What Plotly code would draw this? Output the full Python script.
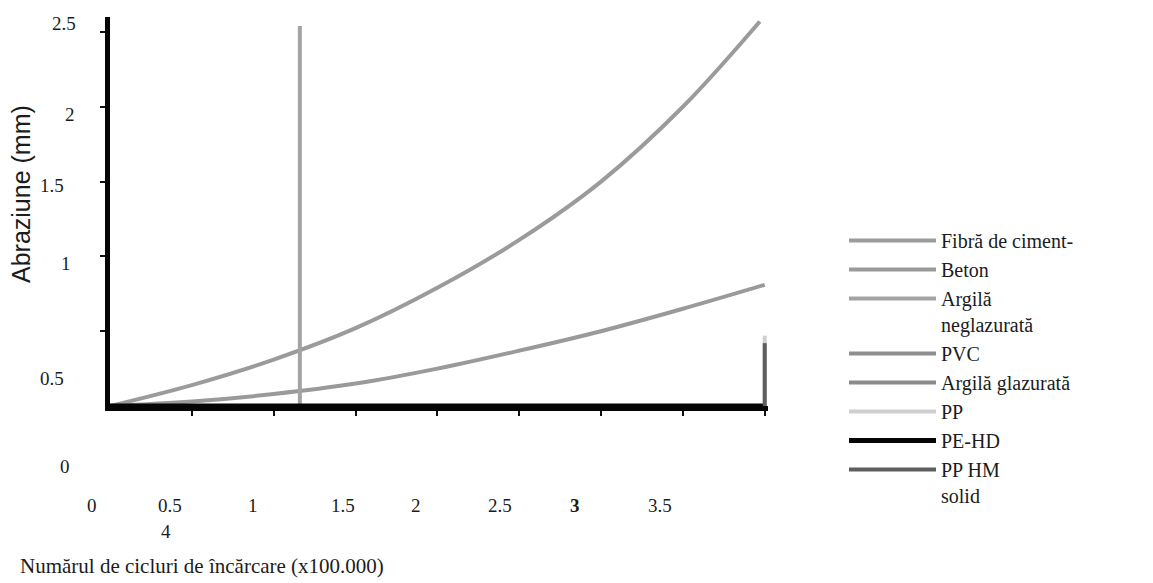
import plotly.graph_objects as go

# ---------------- data ----------------
x_fibra = [0, 0.5, 1, 1.5, 2, 2.5, 3, 3.5, 3.97]
y_fibra = [0, 0.14, 0.31, 0.52, 0.79, 1.11, 1.50, 2.00, 2.57]

x_beton = [0, 0.5, 1, 1.5, 2, 2.5, 3, 3.5, 4]
y_beton = [0, 0.03, 0.08, 0.15, 0.25, 0.37, 0.50, 0.65, 0.81]

x_argila_neglaz = [1.16, 1.16]
y_argila_neglaz = [0, 2.54]

x_pvc = [0, 4]
y_pvc = [0, 0]

x_argila_glaz = [0, 4]
y_argila_glaz = [0, 0]

x_pp = [4, 4]
y_pp = [0, 0.47]

x_pehd = [0, 4]
y_pehd = [0, 0]

x_pphm = [4, 4]
y_pphm = [0, 0.42]

y_tick_vals = [0.5, 1, 1.5, 2, 2.5]
x_tick_vals = [0.5, 1, 1.5, 2, 2.5, 3, 3.5, 4]

y_tick_labels = ["2.5", "2", "1.5", "1", "0.5", "0"]
x_tick_labels = ["0", "0.5", "1", "1.5", "2", "2.5", "3", "3.5", "4"]

# ---------------- layout geometry ----------------
# the page has an 8px body margin, so the figure is drawn 8px smaller
OFF = 8
W, H = 1153 - OFF, 583 - OFF
# plot area edges in page pixels
L, R, T, B = 110 - OFF, 768 - OFF, 17 - OFF, 406 - OFF

# where the (displaced) tick labels sit on the scanned page (page pixels)
y_label_pos = [(64, 23), (70, 114), (52, 186), (66, 264), (52, 378), (65, 466)]
x_label_pos = [(92, 505), (170, 505), (253, 505), (343, 505), (416, 505),
               (500, 505), (575, 505), (660, 505), (166, 531)]


def px(xp):
    return (xp - OFF - L) / (R - L)


def py(yp):
    return (B - (yp - OFF)) / (B - T)


serif = "Liberation Serif, Tinos, Times New Roman, serif"
txt_col = "#1c1c1c"

fig = go.Figure()

series = [
    ("Fibră de ciment-", x_fibra, y_fibra, "#9b9b9b", 4, "spline"),
    ("Beton", x_beton, y_beton, "#9a9a9a", 4, "spline"),
    ("Argilă<br>neglazurată", x_argila_neglaz, y_argila_neglaz, "#a3a3a3", 4, "linear"),
    ("PVC", x_pvc, y_pvc, "#8e8e8e", 4, "linear"),
    ("Argilă glazurată", x_argila_glaz, y_argila_glaz, "#8a8a8a", 4, "linear"),
    ("PP", x_pp, y_pp, "#cfcfcf", 4, "linear"),
    ("PE-HD", x_pehd, y_pehd, "#050505", 5, "linear"),
    ("PP HM<br>solid", x_pphm, y_pphm, "#5e5e5e", 4, "linear"),
]

for name, xs, ys, col, w, shape in series:
    fig.add_trace(go.Scatter(
        x=xs, y=ys, mode="lines", name=name,
        line=dict(color=col, width=w, shape=shape),
    ))

annotations = []
for lab, (ax, ay) in zip(y_tick_labels, y_label_pos):
    annotations.append(dict(text=lab, x=px(ax), y=py(ay), xref="paper", yref="paper",
                            showarrow=False, xanchor="center", yanchor="middle",
                            font=dict(family=serif, size=19, color=txt_col)))
for lab, (ax, ay) in zip(x_tick_labels, x_label_pos):
    annotations.append(dict(text=("<b>%s</b>" % lab) if lab == "3" else lab,
                            x=px(ax), y=py(ay), xref="paper", yref="paper",
                            showarrow=False, xanchor="center", yanchor="middle",
                            font=dict(family=serif, size=19, color=txt_col)))

# axis titles
annotations.append(dict(text="Abraziune (mm)", x=px(21), y=py(194), xref="paper", yref="paper",
                        showarrow=False, textangle=-90, xanchor="center", yanchor="middle",
                        font=dict(family="Liberation Sans, Arial, sans-serif", size=25, color=txt_col)))
annotations.append(dict(text="Numărul de cicluri de încărcare (x100.000)", x=px(18), y=py(566),
                        xref="paper", yref="paper", showarrow=False,
                        xanchor="left", yanchor="middle",
                        font=dict(family=serif, size=21, color=txt_col)))

fig.update_layout(
    width=W, height=H,
    margin=dict(l=L, r=W - R, t=T, b=H - B, pad=0, autoexpand=False),
    paper_bgcolor="white", plot_bgcolor="white",
    showlegend=True,
    legend=dict(
        xref="paper", yref="paper",
        x=px(844), y=py(221), xanchor="left", yanchor="top",
        font=dict(family=serif, size=20, color=txt_col),
        bgcolor="rgba(0,0,0,0)", borderwidth=0,
        itemwidth=87, valign="top", tracegroupgap=0,
    ),
    annotations=annotations,
    xaxis=dict(range=[0, 4.02], showgrid=False, zeroline=False,
               showline=True, linecolor="#050505", linewidth=5,
               ticks="outside", ticklen=5, tickwidth=2, tickcolor="#111",
               tickvals=x_tick_vals, showticklabels=False),
    yaxis=dict(range=[0, 2.6], showgrid=False, zeroline=False,
               showline=True, linecolor="#050505", linewidth=5,
               ticks="outside", ticklen=5, tickwidth=2, tickcolor="#111",
               tickvals=y_tick_vals, showticklabels=False),
)

fig.write_html("out.html")
